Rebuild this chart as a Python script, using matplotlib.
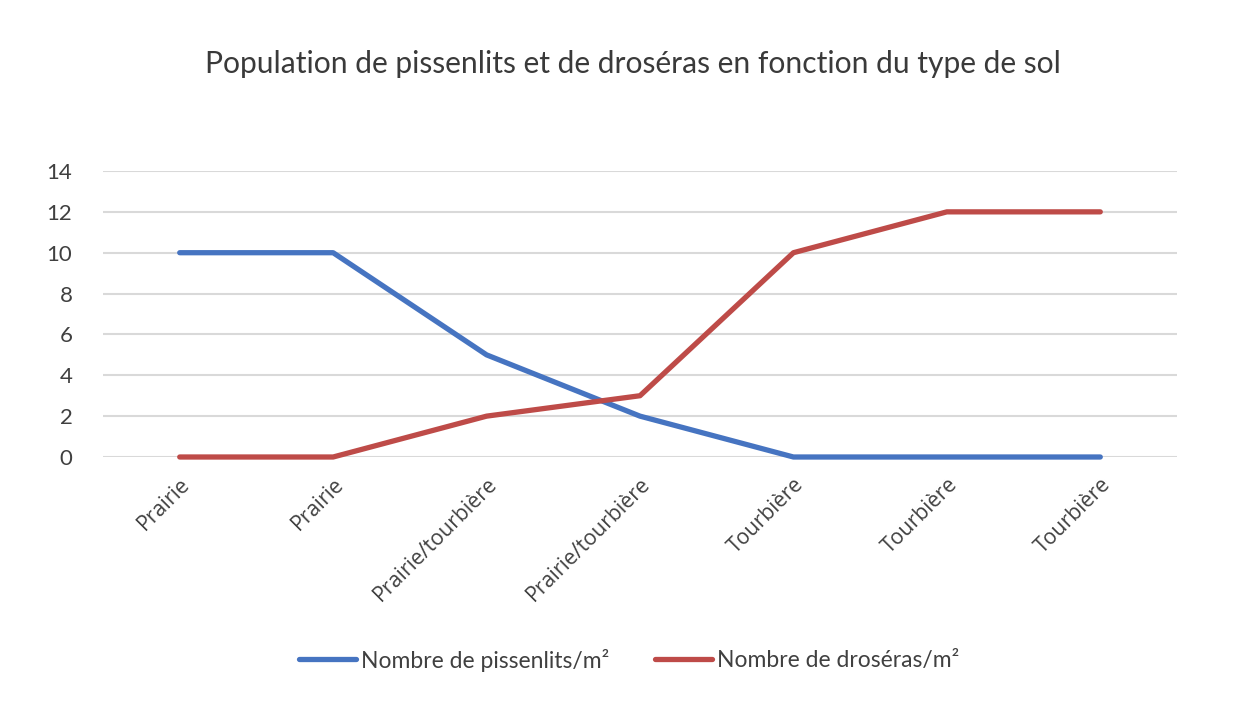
import matplotlib
matplotlib.use("Agg")
import matplotlib.pyplot as plt

# Data
categories = ["Prairie", "Prairie", "Prairie/tourbière", "Prairie/tourbière",
              "Tourbière", "Tourbière", "Tourbière"]
pissenlits = [10, 10, 5, 2, 0, 0, 0]
droseras = [0, 0, 2, 3, 10, 12, 12]
yticks = [0, 2, 4, 6, 8, 10, 12, 14]

blue = "#4674C1"
red = "#BE4B48"
txt = "#404040"

fig = plt.figure(figsize=(12.44, 7.27), dpi=100)
ax = fig.add_axes([103 / 1244, 1 - 457 / 727, (1177 - 103) / 1244, (457 - 171) / 727])

x = list(range(len(categories)))
ax.plot(x, pissenlits, color=blue, lw=3.8, solid_capstyle="round", solid_joinstyle="round",
        label="Nombre de pissenlits/m²", zorder=3)
ax.plot(x, droseras, color=red, lw=3.8, solid_capstyle="round", solid_joinstyle="round",
        label="Nombre de droséras/m²", zorder=3)

ax.set_xlim(-0.5, len(categories) - 0.5)
ax.set_ylim(0, 14)
ax.set_yticks(yticks)
ax.set_yticklabels([str(v) for v in yticks], fontfamily="Lato", fontsize=16, color=txt)
ax.set_xticks(x)
ax.set_xticklabels(categories, rotation=45, ha="right", rotation_mode="anchor",
                   fontfamily="Open Sans", fontsize=15.3, color=txt)
ax.tick_params(axis="both", length=0)
ax.tick_params(axis="y", pad=22)
ax.tick_params(axis="x", pad=12)
ax.grid(axis="y", color="#D9D9D9", lw=1.5)
ax.set_axisbelow(True)
for s in ax.spines.values():
    s.set_visible(False)
for ln in ax.lines:
    ln.set_clip_on(False)

fig.text(633 / 1244, 1 - 64 / 727, "Population de pissenlits et de droséras en fonction du type de sol",
         ha="center", va="center", fontfamily="Lato", fontsize=21.6, color="#3a3a3a")

fig.legend(loc="center", bbox_to_anchor=(629 / 1244, 1 - 660 / 727), ncol=2, frameon=False,
           prop={"family": "Lato", "size": 16.5}, labelcolor=txt,
           handlelength=2.5, handletextpad=0.2, columnspacing=2.0)

fig.savefig("out.png", dpi=100)
